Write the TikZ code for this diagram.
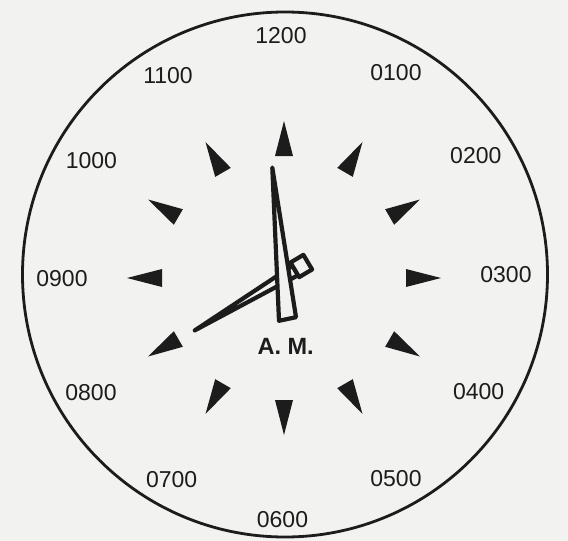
\documentclass[tikz,border=0pt]{standalone}
\usepackage{fontspec}
\setmainfont{Liberation Sans}
\definecolor{paper}{RGB}{242,242,240}
\definecolor{ink}{RGB}{28,28,28}
\begin{document}
\begin{tikzpicture}[x=1pt,y=-1pt,
  lbl/.style={font=\fontsize{23}{26}\selectfont, inner sep=0pt, text=ink},
  ampm/.style={font=\fontsize{23.5}{26}\selectfont\bfseries, inner sep=0pt, text=ink},
  tickmark/.style={fill=ink},
  hand/.style={draw=ink, fill=paper, line width=4.2pt, line join=round}]
\fill[paper] (0,0) rectangle (568,541);
\useasboundingbox (0,0) rectangle (568,541);
% dial rim
\node[circle, draw=ink, line width=2.8pt, minimum size=525pt, inner sep=0pt] (face) at (285,274.5) {};
% hour markers and hour hand
\begin{scope}[shift={(284,278)}, yscale=-1]
  \foreach \k in {0,...,11}{
    \fill[tickmark, rotate=30*\k-90] (157,0) -- (122,9) -- (122,-9) -- cycle;
  }
  \begin{scope}[rotate=-30.7]
    \draw[hand] (-103.5,0.5) -- (13.5,6.2) -- (13.5,-4.8) -- cycle;
    \draw[hand] (13.5,-7) rectangle (28.5,10);
  \end{scope}
\end{scope}
% minute hand
\draw[hand] (272.3,167.5) -- (279,320.8) -- (296,317.2) -- cycle;
% labels
\node[lbl] (h12) at (281,35.5) {1200};
\node[lbl] (h11) at (168,75.5) {1100};
\node[lbl] (h01) at (396,72.5) {0100};
\node[lbl] (h10) at (91.4,160.3) {1000};
\node[lbl] (h02) at (475.8,156) {0200};
\node[lbl] (h09) at (62,279) {0900};
\node[lbl] (h03) at (506,275) {0300};
\node[lbl] (h08) at (91,393) {0800};
\node[lbl] (h04) at (478.6,391.4) {0400};
\node[lbl] (h07) at (171.7,480) {0700};
\node[lbl] (h05) at (396,478.6) {0500};
\node[lbl] (h06) at (282.5,519.5) {0600};
\node[ampm] (am) at (285.7,346.5) {A. M.};
\end{tikzpicture}
\end{document}
